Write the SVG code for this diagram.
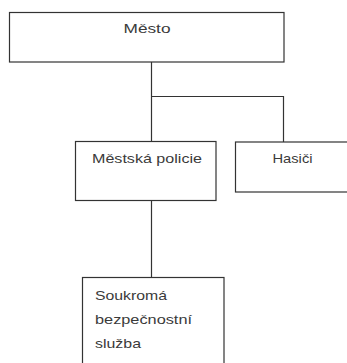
<svg xmlns="http://www.w3.org/2000/svg" width="347" height="363" viewBox="0 0 347 363">
<style>
.box{fill:#fff;stroke:#333;stroke-width:1.2}
.ln{fill:none;stroke:#333;stroke-width:1.2}
text{font-family:"Liberation Sans","DejaVu Sans",sans-serif;font-size:13.5px;fill:#3a3a3a}
</style>
<rect width="347" height="363" fill="#fff"/>
<g id="connectors">
<path class="ln" d="M151.5 62V141.5M151.5 96.5H283.5V142M151.5 200.5V277.5"/>
</g>
<g id="mesto">
<rect class="box" x="9.5" y="12.5" width="274.5" height="49.5"/>
<text x="147" y="33" text-anchor="middle" textLength="47" lengthAdjust="spacingAndGlyphs">Město</text>
</g>
<g id="mestska-policie">
<rect class="box" x="75.5" y="141.5" width="140.5" height="59"/>
<text x="92" y="163" textLength="110" lengthAdjust="spacingAndGlyphs">Městská policie</text>
</g>
<g id="hasici">
<rect class="box" x="235.5" y="142" width="120" height="50"/>
<text x="272.5" y="163" textLength="40" lengthAdjust="spacingAndGlyphs">Hasiči</text>
</g>
<g id="soukroma">
<rect class="box" x="82.5" y="277.5" width="141.5" height="100"/>
<text x="95" y="299.5" textLength="72" lengthAdjust="spacingAndGlyphs">Soukromá</text>
<text x="95" y="323.5" textLength="97" lengthAdjust="spacingAndGlyphs">bezpečnostní</text>
<text x="95" y="347.5" textLength="46" lengthAdjust="spacingAndGlyphs">služba</text>
</g>
</svg>
